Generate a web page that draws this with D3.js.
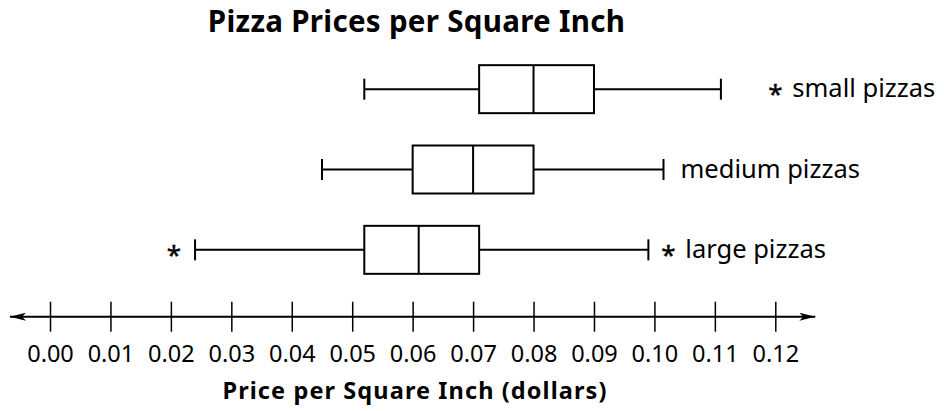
<!DOCTYPE html>
<html>
<head>
<meta charset="utf-8">
<script src="https://cdn.jsdelivr.net/npm/d3@7"></script>
<style>
  body { margin: 0; background: #fff; }
  svg text { font-family: "Noto Sans", "Open Sans", sans-serif; fill: #000; }
</style>
</head>
<body>
<svg id="chart" width="944" height="411"></svg>
<script>
// box plot data, dollars per square inch
const groups = ['small pizzas', 'medium pizzas', 'large pizzas'];
const mins = [0.052, 0.045, 0.024];
const q1s = [0.071, 0.060, 0.052];
const medians = [0.080, 0.070, 0.061];
const q3s = [0.090, 0.080, 0.071];
const maxs = [0.111, 0.1015, 0.099];
const outliers = [[0.12], [], [0.0205, 0.1023]];
const tickValues = [0, 0.01, 0.02, 0.03, 0.04, 0.05, 0.06, 0.07, 0.08, 0.09, 0.10, 0.11, 0.12];

const svg = d3.select('#chart');
const x = d3.scaleLinear().domain([0, 0.12]).range([50, 775.3]);
const y = d3.scaleBand().domain(groups).range([49, 290]).padding(0);
const boxH = 48;

const data = groups.map((g, i) => ({
	name: g, min: mins[i], q1: q1s[i], med: medians[i], q3: q3s[i], max: maxs[i], out: outliers[i]
}));

// title
svg.append('text')
	.attr('x', 416.5).attr('y', 31.7)
	.attr('text-anchor', 'middle')
	.style('font-size', '29.5px').style('font-weight', 'bold')
	.style('letter-spacing', '0.3px')
	.text('Pizza Prices per Square Inch');

// arrow markers for the number line
const defs = svg.append('defs');
['start', 'end'].forEach(k => {
	defs.append('marker')
		.attr('id', 'arrow-' + k)
		.attr('viewBox', '0 0 16 8')
		.attr('refX', k == 'end' ? 16 : 0).attr('refY', 4)
		.attr('markerWidth', 16).attr('markerHeight', 8)
		.attr('markerUnits', 'userSpaceOnUse')
		.attr('orient', 'auto')
		.append('path')
		.attr('d', k == 'end' ? 'M0,0 L16,4 L0,8 L4,4 Z' : 'M16,0 L0,4 L16,8 L12,4 Z')
		.attr('fill', '#000');
});

const axisY = 316.7;
svg.append('line')
	.attr('x1', x.range()[0] - 40).attr('x2', x.range()[1] + 40)
	.attr('y1', axisY).attr('y2', axisY)
	.attr('stroke', '#000').attr('stroke-width', 2)
	.attr('marker-start', 'url(#arrow-start)')
	.attr('marker-end', 'url(#arrow-end)');

const axis = svg.append('g')
	.attr('transform', `translate(0,${axisY})`)
	.call(d3.axisBottom(x).tickValues(tickValues).tickFormat(d3.format('.2f')).tickSize(15));
axis.select('.domain').remove();
axis.selectAll('.tick line')
	.attr('y1', -15).attr('y2', 15)
	.attr('stroke', '#000').attr('stroke-width', 1.5);
axis.selectAll('.tick text')
	.attr('y', 45).attr('dy', null)
	.style('font-size', '23.5px')
	.style('font-family', '"Noto Sans", sans-serif');

// axis title
svg.append('text')
	.attr('x', 415).attr('y', 399)
	.attr('text-anchor', 'middle')
	.style('font-size', '23.5px').style('font-weight', 'bold')
	.style('letter-spacing', '1.1px')
	.text('Price per Square Inch (dollars)');

// boxes
const rows = svg.selectAll('.row')
	.data(data)
	.enter().append('g')
	.attr('class', 'row')
	.attr('transform', d => `translate(0,${y(d.name) + y.bandwidth() / 2})`);

rows.append('line')
	.attr('x1', d => x(d.min)).attr('x2', d => x(d.max))
	.attr('stroke', '#000').attr('stroke-width', 2);

rows.selectAll('.cap')
	.data(d => [d.min, d.max])
	.enter().append('line')
	.attr('x1', v => x(v)).attr('x2', v => x(v))
	.attr('y1', -10.5).attr('y2', 10.5)
	.attr('stroke', '#000').attr('stroke-width', 2);

rows.append('rect')
	.attr('x', d => x(d.q1))
	.attr('y', -boxH / 2)
	.attr('width', d => x(d.q3) - x(d.q1))
	.attr('height', boxH)
	.attr('fill', '#fff')
	.attr('stroke', '#000').attr('stroke-width', 2);

rows.append('line')
	.attr('x1', d => x(d.med)).attr('x2', d => x(d.med))
	.attr('y1', -boxH / 2).attr('y2', boxH / 2)
	.attr('stroke', '#000').attr('stroke-width', 2);

// outliers drawn as asterisks
rows.selectAll('.out')
	.data(d => d.out)
	.enter().append('text')
	.attr('class', 'out')
	.attr('x', v => x(v))
	.attr('y', 14)
	.attr('text-anchor', 'middle')
	.style('font-size', '26px')
	.style('stroke', '#000').style('stroke-width', 0.4)
	.text('*');

rows.append('text')
	.attr('x', d => x(d3.max([d.max].concat(d.out))) + 17)
	.attr('y', 8)
	.style('font-size', '25.5px')
	.text(d => d.name);
</script>
</body>
</html>
